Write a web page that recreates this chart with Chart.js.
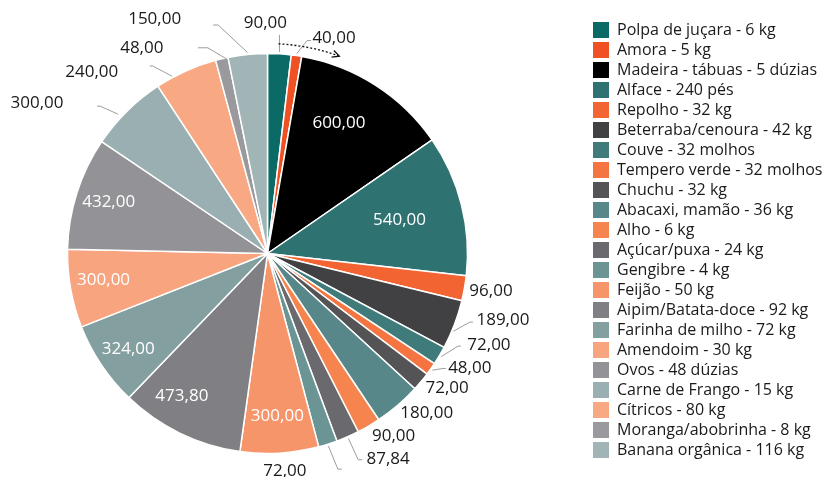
<!DOCTYPE html>
<html>
<head>
<meta charset="utf-8">
<script src="https://cdn.jsdelivr.net/npm/chart.js@4.4.1/dist/chart.umd.min.js"></script>
<style>
  html, body { margin: 0; padding: 0; background: #fff; overflow: hidden; }
  body { width: 827px; height: 477px; position: relative; }
  #wrap { position: absolute; left: -54px; top: 0; }
</style>
</head>
<body>
<div id="wrap"><canvas id="chart" width="888" height="489"></canvas></div>
<script>
const categories = [
  'Polpa de juçara - 6 kg', 'Amora - 5 kg', 'Madeira - tábuas - 5 dúzias', 'Alface - 240 pés',
  'Repolho - 32 kg', 'Beterraba/cenoura - 42 kg', 'Couve - 32 molhos', 'Tempero verde - 32 molhos',
  'Chuchu - 32 kg', 'Abacaxi, mamão - 36 kg', 'Alho - 6 kg', 'Açúcar/puxa - 24 kg',
  'Gengibre - 4 kg', 'Feijão - 50 kg', 'Aipim/Batata-doce - 92 kg', 'Farinha de milho - 72 kg',
  'Amendoim - 30 kg', 'Ovos - 48 dúzias', 'Carne de Frango - 15 kg', 'Cítricos - 80 kg',
  'Moranga/abobrinha - 8 kg', 'Banana orgânica - 116 kg'
];
const values = [90, 40, 600, 540, 96, 189, 72, 48, 72, 180, 90, 87.84, 72, 300, 473.8, 324, 300, 432, 300, 240, 48, 150];
const colors = [
  '#0b6966', '#ef5125', '#000000', '#2f7272', '#f26532', '#414143', '#3f7b7a', '#f47542',
  '#545457', '#578788', '#f6844f', '#6a6a6e', '#6b9595', '#f7956a', '#808084', '#849fa0',
  '#f8a47e', '#939397', '#9aafb1', '#f8a883', '#9a9a9e', '#a1b4b6'
];

const fmt = v => v.toFixed(2).replace('.', ',');

// white labels inside the big slices (fraction of radius + nudge)
const insideLabels = {
  2: { r: 0.82, dx: -17, dy: 8 },
  3: { r: 0.82, dx: -27, dy: 6.5 },
  13: { r: 0.82, dx: 0, dy: -1 },
  14: { r: 0.82, dx: -14, dy: -5 },
  15: { r: 0.82, dx: -3, dy: 4 },
  16: { r: 0.82, dx: -2.5, dy: -2.5 },
  17: { r: 0.82, dx: -2.5, dy: -2 }
};

// outside labels, offset from the slice's outer edge point
// leader = [elbow dx, elbow dy, tail, start nudge x, start nudge y]
const outsideLabels = {
  0: { dx: -14, dy: -31, leader: [0, -19, 0] },
  1: { dx: 37.5, dy: -17, leader: [10.5, -15, 4] },
  4: { dx: 26.5, dy: 3 },
  5: { dx: 48.5, dy: -4.5, leader: [15.5, -2.5, 3, -3, 6] },
  6: { dx: 49.5, dy: -10.5, leader: [18.5, -9.5, 3] },
  7: { dx: 39, dy: -1, leader: [12, -0.5, 3] },
  8: { dx: 26, dy: 6.5 },
  9: { dx: 29, dy: 7.5 },
  10: { dx: 25, dy: 10 },
  11: { dx: 40.5, dy: 22, leader: [10.5, 23, 4] },
  12: { dx: -43, dy: 27, leader: [10, 25, 4] },
  18: { dx: -90, dy: -8, leader: [-27, -5, -3, -7.5, 4.5] },
  19: { dx: -94, dy: 1, leader: [-33, -5, -3, -13, 7] },
  20: { dx: -80, dy: -11, leader: [-14, -11, -10, 5, 2] },
  21: { dx: -93, dy: -35, leader: [-29.5, -29.5, -5] }
};

const legendWidth = {
  id: 'legendWidth',
  beforeLayout(chart) {
    const legend = chart.legend;
    if (!legend || legend._fixedFit) return;
    const fit = legend.fit;
    legend.fit = function () {
      fit.call(this);
      this.width = 245;
    };
    legend._fixedFit = true;
  }
};

const sliceLabels = {
  id: 'sliceLabels',
  afterDatasetsDraw(chart) {
    const ctx = chart.ctx;
    const arcs = chart.getDatasetMeta(0).data;
    ctx.save();
    ctx.font = '17px "Open Sans"';
    ctx.textAlign = 'center';
    ctx.textBaseline = 'middle';
    let cx = 0, cy = 0, R = 0;
    arcs.forEach((arc, i) => {
      const p = arc.getProps(['x', 'y', 'startAngle', 'endAngle', 'outerRadius'], true);
      cx = p.x; cy = p.y; R = p.outerRadius;
      const mid = (p.startAngle + p.endAngle) / 2;
      const cos = Math.cos(mid), sin = Math.sin(mid);
      const text = fmt(values[i]);
      const inn = insideLabels[i];
      if (inn) {
        ctx.fillStyle = '#ffffff';
        ctx.fillText(text, p.x + cos * R * inn.r + inn.dx, p.y + sin * R * inn.r + inn.dy);
        return;
      }
      const out = outsideLabels[i];
      if (!out) return;
      const ex = p.x + cos * R, ey = p.y + sin * R;
      if (out.leader) {
        const [lx, ly, tail, sx = 0, sy = 0] = out.leader;
        ctx.strokeStyle = '#9c9c9c';
        ctx.lineWidth = 1;
        ctx.beginPath();
        ctx.moveTo(p.x + cos * (R + 2) + sx, p.y + sin * (R + 2) + sy);
        ctx.lineTo(ex + lx, ey + ly);
        if (tail) ctx.lineTo(ex + lx + tail, ey + ly);
        ctx.stroke();
      }
      ctx.fillStyle = '#1a1a1a';
      ctx.fillText(text, ex + out.dx, ey + out.dy);
    });

    // dotted arrow following the rim, clockwise from the top
    const a0 = (3 - 90) * Math.PI / 180, a1 = (20 - 90) * Math.PI / 180;
    const rr = R + 10;
    ctx.strokeStyle = '#111';
    ctx.lineWidth = 1.3;
    ctx.setLineDash([2, 2]);
    ctx.beginPath();
    ctx.arc(cx, cy, rr, a0, a1);
    ctx.stroke();
    ctx.setLineDash([]);
    const px = cx + rr * Math.cos(a1), py = cy + rr * Math.sin(a1);
    const tx = -Math.sin(a1), ty = Math.cos(a1);
    const nx = Math.cos(a1), ny = Math.sin(a1);
    ctx.beginPath();
    ctx.moveTo(px - tx * 7 - nx * 3.5, py - ty * 7 - ny * 3.5);
    ctx.lineTo(px, py);
    ctx.lineTo(px - tx * 7 + nx * 3.5, py - ty * 7 + ny * 3.5);
    ctx.stroke();
    ctx.restore();
  }
};

new Chart(document.getElementById('chart'), {
  type: 'pie',
  data: {
    labels: categories,
    datasets: [{
      data: values,
      backgroundColor: colors,
      borderColor: '#ffffff',
      borderWidth: 1.5,
      radius: 200
    }]
  },
  options: {
    responsive: false,
    animation: false,
    devicePixelRatio: 1,
    events: [],
    layout: { padding: { top: 18, left: 0, right: 0, bottom: 0 } },
    plugins: {
      tooltip: { enabled: false },
      legend: {
        position: 'right',
        align: 'start',
        labels: {
          boxWidth: 16,
          boxHeight: 16,
          padding: 4,
          color: '#1a1a1a',
          font: { family: '"Open Sans"', size: 16 },
          generateLabels(chart) {
            return Chart.overrides.pie.plugins.legend.labels.generateLabels(chart)
              .map(item => Object.assign(item, { lineWidth: 0 }));
          }
        }
      }
    }
  },
  plugins: [legendWidth, sliceLabels]
});
</script>
</body>
</html>
